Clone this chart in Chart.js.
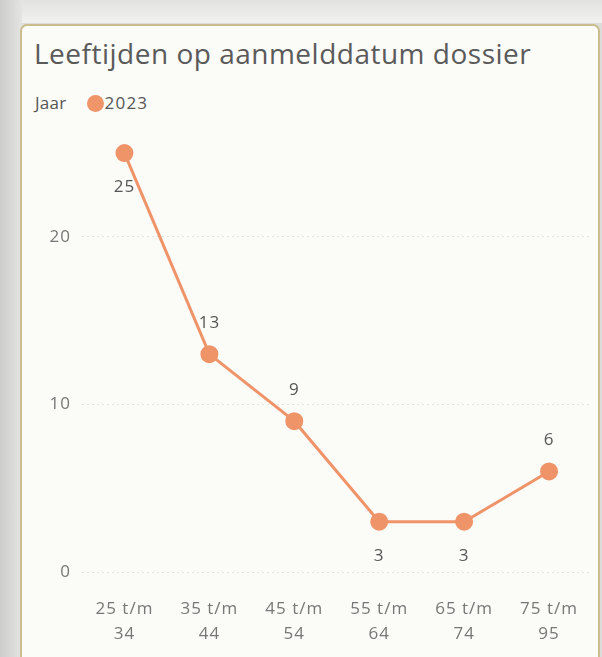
<!DOCTYPE html>
<html lang="nl">
  <head>
    <meta charset="UTF-8" />
    <title>Leeftijden op aanmelddatum dossier</title>
    <script src="https://cdn.jsdelivr.net/npm/chart.js"></script>
    <style>
      html, body { margin: 0; padding: 0; }
      body {
        width: 602px; height: 657px; overflow: hidden; position: relative;
        background: linear-gradient(to bottom, #e2e2e0 0px, #f1f1ef 23px, #dcdcdb 23px);
        font-family: "Open Sans", "Noto Sans", sans-serif;
      }
      .strip { position: absolute; left: 0; top: 0; width: 22px; height: 657px;
        background: linear-gradient(to right, #cdcdcd, #e4e4e2); }
      .card {
        position: absolute; left: 20px; top: 24px; width: 576px; height: 650px;
        border: 2px solid #cbbc8e; border-radius: 7px; background: #fbfbf8;
      }
      .title { position: absolute; left: 34px; top: 34px; font-size: 28px; color: #5a5a5a;
        letter-spacing: 0.5px; white-space: nowrap; line-height: normal; }
      .legend { position: absolute; left: 35px; top: 91px; font-size: 17px; color: #555;
        line-height: normal; white-space: nowrap; }
      .legend .k { letter-spacing: 0.3px; }
      .legend .v { letter-spacing: 1.2px; }
      .legend .dot { display: inline-block; width: 17px; height: 17px; border-radius: 50%;
        background: #f0956a; vertical-align: -3px; margin: 0 1px 0 20px; }
      #wrap { position: absolute; left: 0; top: 0; width: 602px; height: 657px; }
    </style>
  </head>
  <body>
    <div class="strip"></div>
    <div class="card"></div>
    <div class="title">Leeftijden op aanmelddatum dossier</div>
    <div class="legend"><span class="k">Jaar</span><span class="dot"></span><span class="v">2023</span></div>
    <div id="wrap"><canvas id="ageChart"></canvas></div>

    <script>
      // data
      const categories = [
        ["25 t/m", "34"],
        ["35 t/m", "44"],
        ["45 t/m", "54"],
        ["55 t/m", "64"],
        ["65 t/m", "74"],
        ["75 t/m", "95"],
      ];
      const values2023 = [25, 13, 9, 3, 3, 6];
      const yTicks = [0, 10, 20];
      const labelPlacement = ["below", "above", "above", "below", "below", "above"];

      const FONT = "'Open Sans', sans-serif";

      // wider text spacing like the original
      const spacing = {
        id: "spacing",
        beforeDraw(chart) { chart.ctx.letterSpacing = "1px"; },
      };

      // draws the value next to each point
      const valueLabels = {
        id: "valueLabels",
        afterDatasetsDraw(chart) {
          const ctx = chart.ctx;
          const meta = chart.getDatasetMeta(0);
          ctx.save();
          ctx.font = "17px " + FONT;
          ctx.fillStyle = "#555";
          ctx.textAlign = "center";
          ctx.textBaseline = "middle";
          meta.data.forEach((pt, i) => {
            const dy = labelPlacement[i] === "above" ? -31 : 34;
            ctx.fillText(String(values2023[i]), pt.x, pt.y + dy);
          });
          ctx.restore();
        },
      };

      new Chart(document.getElementById("ageChart"), {
        type: "line",
        data: {
          labels: categories,
          datasets: [
            {
              label: "2023",
              data: values2023,
              borderColor: "#ef9468",
              backgroundColor: "#ef9468",
              borderWidth: 3,
              pointRadius: 7.5,
              pointHoverRadius: 7.5,
              tension: 0,
            },
          ],
        },
        options: {
          responsive: true,
          maintainAspectRatio: false,
          animation: false,
          layout: { padding: { top: 107, right: 2, bottom: 0, left: 0 } },
          plugins: { legend: { display: false }, tooltip: { enabled: false } },
          scales: {
            y: {
              min: 0,
              max: 27.75,
              afterBuildTicks: (scale) => { scale.ticks = yTicks.map((v) => ({ value: v })); },
              afterFit: (scale) => { scale.width = 82; },
              border: { display: false, dash: [2, 3] },
              grid: { color: "#e4e4df", drawTicks: false },
              ticks: { color: "#777", padding: 11, font: { size: 17, family: FONT } },
            },
            x: {
              offset: true,
              afterFit: (scale) => { scale.height = 85; },
              border: { display: false },
              grid: { display: false, drawTicks: false },
              ticks: {
                color: "#777",
                padding: 25,
                maxRotation: 0,
                font: { size: 17, family: FONT, lineHeight: 1.45 },
              },
            },
          },
        },
        plugins: [spacing, valueLabels],
      });
    </script>
  </body>
</html>
